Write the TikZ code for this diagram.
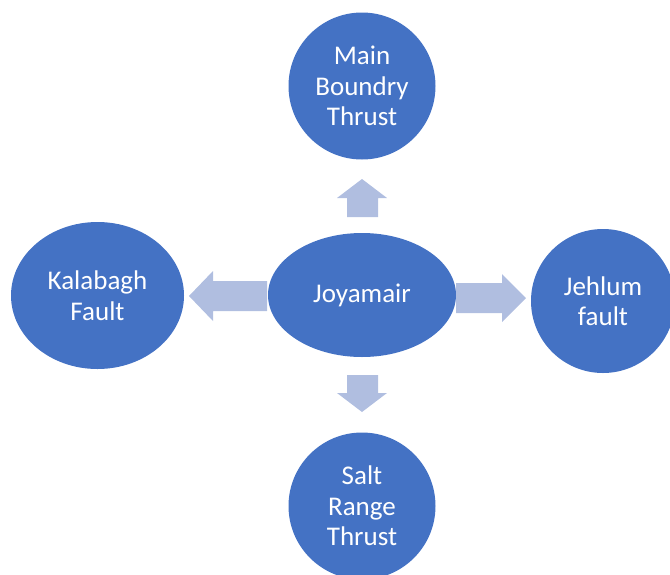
\documentclass[tikz,border=0pt]{standalone}
\usepackage{fontspec}
\setmainfont{Carlito}
\usetikzlibrary{shapes.geometric}
\definecolor{hubblue}{RGB}{68,114,196}
\definecolor{arrowblue}{RGB}{176,190,224}
\begin{document}
\begin{tikzpicture}[x=1pt,y=-1pt,
  bubble/.style={fill=hubblue, text=white, align=center,
    font=\fontsize{27}{30.5}\selectfont, inner sep=0pt},
  roundbubble/.style={bubble, circle, minimum size=147pt},
  ovalbubble/.style={bubble, ellipse},
  blockarrow/.style={fill=arrowblue, draw=none}]
\useasboundingbox (0,0) rectangle (670,574);

% central node and the four faults around it
\node[ovalbubble, minimum width=188pt, minimum height=124pt] (hub) at (362,295) {Joyamair};
\node[roundbubble] (mbt) at (362,86) {Main\\Boundry\\Thrust};
\node[roundbubble] (srt) at (362,506) {Salt\\Range\\Thrust};
\node[ovalbubble, minimum width=173pt, minimum height=147pt] (kal) at (97.5,295.5) {Kalabagh\\Fault};
\node[roundbubble, minimum size=144pt] (jhe) at (603,301) {Jehlum\\fault};

% block arrows pointing outwards from the hub
\fill[blockarrow] (347,217) -- (347,198) -- (337,198) -- (362,179) -- (387,198)
  -- (378,198) -- (378,217) -- cycle;
\fill[blockarrow] (347,375) -- (347,393) -- (337,393) -- (362,412) -- (387,393)
  -- (378,393) -- (378,375) -- cycle;
\fill[blockarrow] (267,281) -- (213,281) -- (213,271) -- (189,296) -- (213,321)
  -- (213,311) -- (267,311) -- cycle;
\fill[blockarrow] (456,283) -- (502,283) -- (502,274) -- (526,298) -- (502,322)
  -- (502,313) -- (456,313) -- cycle;
\end{tikzpicture}
\end{document}
